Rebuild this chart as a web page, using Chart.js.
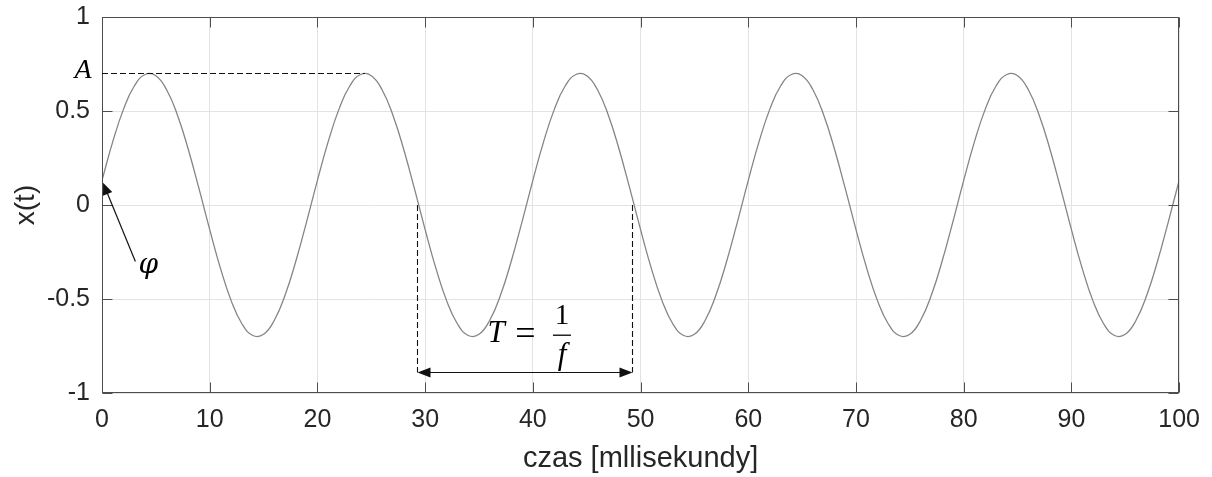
<!DOCTYPE html>
<html><head><meta charset="utf-8">
<script src="https://cdn.jsdelivr.net/npm/chart.js@4.4.1/dist/chart.umd.min.js"></script>
<style>html,body{margin:0;padding:0;background:#fff;}canvas{display:block;}</style>
</head><body>
<canvas id="c" width="1212" height="477"></canvas>
<script>
// ---- data ----
const timeMs = [0,1,2,3,4,5,6,7,8,9,10,11,12,13,14,15,16,17,18,19,
  20,21,22,23,24,25,26,27,28,29,30,31,32,33,34,35,36,37,38,39,
  40,41,42,43,44,45,46,47,48,49,50,51,52,53,54,55,56,57,58,59,
  60,61,62,63,64,65,66,67,68,69,70,71,72,73,74,75,76,77,78,79,
  80,81,82,83,84,85,86,87,88,89,90,91,92,93,94,95,96,97,98,99,100];
const signal = [
  0.131,0.337,0.510,0.633,0.694,0.688,0.613,0.479,0.298,0.088,-0.131,-0.337,-0.510,-0.633,-0.694,-0.688,-0.613,-0.479,-0.298,-0.088,
  0.131,0.337,0.510,0.633,0.694,0.688,0.613,0.479,0.298,0.088,-0.131,-0.337,-0.510,-0.633,-0.694,-0.688,-0.613,-0.479,-0.298,-0.088,
  0.131,0.337,0.510,0.633,0.694,0.688,0.613,0.479,0.298,0.088,-0.131,-0.337,-0.510,-0.633,-0.694,-0.688,-0.613,-0.479,-0.298,-0.088,
  0.131,0.337,0.510,0.633,0.694,0.688,0.613,0.479,0.298,0.088,-0.131,-0.337,-0.510,-0.633,-0.694,-0.688,-0.613,-0.479,-0.298,-0.088,
  0.131,0.337,0.510,0.633,0.694,0.688,0.613,0.479,0.298,0.088,-0.131,-0.337,-0.510,-0.633,-0.694,-0.688,-0.613,-0.479,-0.298,-0.088,
  0.131];
const xTickLabels = ['0','10','20','30','40','50','60','70','80','90','100'];
const yTickLabels = ['-1','-0.5','0','0.5','1'];
const xTitle = 'czas [mllisekundy]';
const yTitle = 'x(t)';

// annotation anchors (data units)
const amplitude = 0.7;
const amplitudePeakTime = 24.4;
const phaseTip = [0.1, 0.118];
const phaseTail = [3.1, -0.30];
const phaseLabelAt = [4.3, -0.325];
const periodStart = 29.25;
const periodEnd = 49.2;
const periodArrowY = -0.888;

// ---- drawing ----
const AXIS_COLOR = '#4d4d4d';
const TEXT_COLOR = '#262626';
const SANS = "'Liberation Sans', Arial, sans-serif";
const SERIF = "'Liberation Serif', 'Times New Roman', serif";

function arrowHead(ctx, fx, fy, tx, ty, len, hw) {
  const ang = Math.atan2(ty - fy, tx - fx);
  ctx.beginPath();
  ctx.moveTo(tx, ty);
  ctx.lineTo(tx - len * Math.cos(ang) + hw * Math.sin(ang), ty - len * Math.sin(ang) - hw * Math.cos(ang));
  ctx.lineTo(tx - len * Math.cos(ang) - hw * Math.sin(ang), ty - len * Math.sin(ang) + hw * Math.cos(ang));
  ctx.closePath();
  ctx.fill();
}

const boxPlugin = {
  id: 'boxAndNotes',
  afterDraw(chart) {
    const {ctx, chartArea: a, scales: {x, y}} = chart;
    const L = Math.round(a.left) + 0.5, R = Math.round(a.right) - 0.5;
    const T = Math.round(a.top) + 0.5, B = Math.round(a.bottom) - 0.5;
    ctx.save();
    // box
    ctx.strokeStyle = AXIS_COLOR; ctx.lineWidth = 1; ctx.setLineDash([]);
    ctx.strokeRect(L, T, R - L, B - T);
    // inner ticks
    ctx.beginPath();
    x.ticks.forEach(t => {
      const px = Math.round(x.getPixelForValue(t.value)) + 0.5;
      ctx.moveTo(px, B); ctx.lineTo(px, B - 10);
      ctx.moveTo(px, T); ctx.lineTo(px, T + 10);
    });
    y.ticks.forEach(t => {
      const py = Math.round(y.getPixelForValue(t.value)) + 0.5;
      ctx.moveTo(L, py); ctx.lineTo(L + 10, py);
      ctx.moveTo(R, py); ctx.lineTo(R - 10, py);
    });
    ctx.stroke();

    // amplitude dashed line
    ctx.strokeStyle = '#111'; ctx.lineWidth = 1.1;
    ctx.setLineDash([6, 3]);
    const ay = Math.round(y.getPixelForValue(amplitude)) + 0.5;
    ctx.beginPath();
    ctx.moveTo(x.getPixelForValue(0), ay);
    ctx.lineTo(x.getPixelForValue(amplitudePeakTime), ay);
    ctx.stroke();
    // period dashed verticals
    const p1 = Math.round(x.getPixelForValue(periodStart)) + 0.5;
    const p2 = Math.round(x.getPixelForValue(periodEnd)) + 0.5;
    const y0 = y.getPixelForValue(0);
    const yA = Math.round(y.getPixelForValue(periodArrowY)) + 0.5;
    ctx.beginPath();
    ctx.moveTo(p1, y0); ctx.lineTo(p1, yA);
    ctx.moveTo(p2, y0); ctx.lineTo(p2, yA);
    ctx.stroke();
    ctx.setLineDash([]);
    // period double arrow
    ctx.fillStyle = '#111'; ctx.lineWidth = 1.2;
    ctx.beginPath();
    ctx.moveTo(p1 + 8, yA); ctx.lineTo(p2 - 8, yA);
    ctx.stroke();
    arrowHead(ctx, p2, yA, p1, yA, 13, 5);
    arrowHead(ctx, p1, yA, p2, yA, 13, 5);
    // phase arrow
    const fx = x.getPixelForValue(phaseTail[0]), fy = y.getPixelForValue(phaseTail[1]);
    const tx = x.getPixelForValue(phaseTip[0]), ty = y.getPixelForValue(phaseTip[1]);
    ctx.beginPath();
    ctx.moveTo(fx, fy);
    const ang = Math.atan2(ty - fy, tx - fx);
    ctx.lineTo(tx - 8 * Math.cos(ang), ty - 8 * Math.sin(ang));
    ctx.stroke();
    arrowHead(ctx, fx, fy, tx, ty, 12, 5);

    // labels
    ctx.fillStyle = '#000';
    ctx.textBaseline = 'middle';
    ctx.textAlign = 'center';
    ctx.font = "italic 28px " + SERIF;
    ctx.fillText('A', x.getPixelForValue(-1.75), y.getPixelForValue(amplitude) - 3);
    ctx.font = "italic 28px 'DejaVu Serif', serif";
    ctx.fillText('\u03C6', x.getPixelForValue(phaseLabelAt[0]), y.getPixelForValue(phaseLabelAt[1]));
    // T = 1/f
    const ty0 = y.getPixelForValue(-0.69);
    ctx.font = "italic 31px " + SERIF;
    ctx.fillText('T', x.getPixelForValue(36.6), ty0 - 1);
    ctx.font = "36px " + SERIF;
    ctx.fillText('=', x.getPixelForValue(39.3), ty0 + 1);
    const fxm = x.getPixelForValue(42.7);
    ctx.font = "29px " + SERIF;
    ctx.fillText('1', fxm, y.getPixelForValue(-0.595));
    ctx.beginPath();
    ctx.lineWidth = 1.4;
    ctx.moveTo(fxm - 9, ty0 + 0.5); ctx.lineTo(fxm + 9, ty0 + 0.5);
    ctx.stroke();
    ctx.font = "italic 31px " + SERIF;
    ctx.fillText('f', fxm, y.getPixelForValue(-0.80));
    ctx.restore();
  }
};

new Chart(document.getElementById('c'), {
  type: 'scatter',
  data: {
    datasets: [{
      data: timeMs.map((t, i) => ({x: t, y: signal[i]})),
      showLine: true,
      borderColor: '#858585',
      borderWidth: 1.3,
      pointRadius: 0,
      tension: 0.45,
      fill: false
    }]
  },
  options: {
    responsive: false,
    animation: false,
    devicePixelRatio: 1,
    layout: {padding: {top: 17, right: 30, left: 0, bottom: 0}},
    plugins: {legend: {display: false}, tooltip: {enabled: false}},
    scales: {
      x: {
        type: 'linear', min: 0, max: 100,
        afterFit: s => { s.height = 84; s.paddingTop = 0; s.paddingBottom = 0; },
        afterBuildTicks: s => { s.ticks = xTickLabels.map(v => ({value: Number(v)})); },
        ticks: {
          callback: (v) => xTickLabels[Math.round(v / 10)],
          font: {family: SANS, size: 25}, color: TEXT_COLOR, padding: 12,
          maxRotation: 0, autoSkip: false
        },
        grid: {color: '#e3e3e3', drawTicks: false, lineWidth: 1},
        border: {display: false},
        title: {display: true, text: xTitle, font: {family: SANS, size: 29}, color: TEXT_COLOR, padding: {top: 0, bottom: 1}}
      },
      y: {
        type: 'linear', min: -1, max: 1,
        afterFit: s => { s.width = 102; s.paddingTop = 0; s.paddingBottom = 0; },
        afterBuildTicks: s => { s.ticks = yTickLabels.map(v => ({value: Number(v)})); },
        ticks: {
          callback: (v) => yTickLabels[Math.round((v + 1) / 0.5)],
          font: {family: SANS, size: 25}, color: TEXT_COLOR, padding: 12
        },
        grid: {color: '#e3e3e3', drawTicks: false, lineWidth: 1},
        border: {display: false},
        title: {display: true, text: yTitle, font: {family: SANS, size: 28}, color: TEXT_COLOR, padding: {top: 9, bottom: 0}}
      }
    }
  },
  plugins: [boxPlugin]
});
</script>
</body></html>
